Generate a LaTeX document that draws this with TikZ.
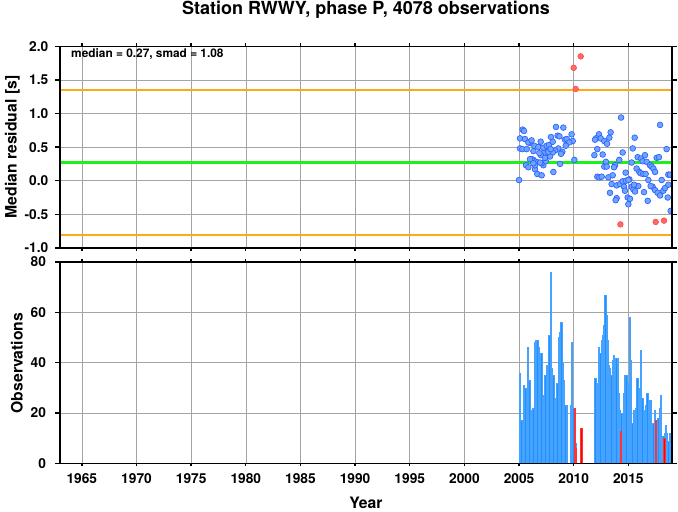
\documentclass[tikz,border=0pt]{standalone}
\usepackage{fontspec}
\setmainfont{TeX Gyre Heros}
\definecolor{gridgray}{RGB}{165,165,165}
\definecolor{dotfill}{RGB}{110,165,255}
\definecolor{dotline}{RGB}{45,95,255}
\definecolor{reddot}{RGB}{255,105,100}
\definecolor{reddotline}{RGB}{255,70,70}
\definecolor{barfill}{RGB}{30,144,255}
\definecolor{barline}{RGB}{70,162,255}
\definecolor{medgreen}{RGB}{30,240,30}
\definecolor{limorange}{RGB}{255,170,20}
\tikzset{
  gridline/.style={gridgray,line width=0.45pt},
  frameline/.style={line width=1pt},
  sideline/.style={line width=1.4pt},
  bluedot/.style={fill=dotfill,draw=dotline,line width=0.5pt},
  redpoint/.style={fill=reddot,draw=reddotline,line width=0.4pt},
  bluebar/.style={fill=barfill,draw=barline,line width=0.1pt},
  redbar/.style={fill=red,draw=red!80,line width=0.1pt},
  ticklabel/.style={font=\fontsize{10.3}{12}\selectfont\bfseries},
  axislabel/.style={font=\fontsize{11.8}{14}\selectfont\bfseries},
}
\begin{document}
\begin{tikzpicture}[x=0.75pt,y=0.75pt]
\useasboundingbox (0,0) rectangle (678,511);

\node[anchor=base,font=\fontsize{13.5}{16}\selectfont\bfseries] (title) at (366,496) {Station RWWY, phase P, 4078 observations};
\node[axislabel,anchor=base,rotate=90] (reslabel) at (16.5,364) {Median residual [s]};
\node[axislabel,anchor=base,rotate=90] (obslabel) at (22.5,148) {Observations};
\node[axislabel,anchor=base] (yearlabel) at (366,2.7) {Year};

\begin{scope}[shift={(348.3pt,247.725pt)},x=8.1975pt,y=50.4pt]
\foreach \x in {-35,-30,...,15}
\draw[gridline] (\x,-1) -- (\x,2);
\foreach \y in {-0.5,0,0.5,1,1.5}
\draw[gridline] (-37,\y) -- (19,\y);

\begin{scope}[limorange,line width=1.1pt]
\draw (-37,1.35) -- (19,1.35);
\draw (-37,-0.81) -- (19,-0.81);
\end{scope}
\draw[medgreen,line width=1.8pt] (-37,0.27) -- (19,0.27);

\begin{scope}
\clip (-37,-1) rectangle (19,2);
\foreach \x/\y in {5.00/0.01,5.33/0.76,5.45/0.74,5.09/0.63,5.54/0.62,6.00/0.56,5.85/0.57,6.15/0.60,
  5.09/0.48,5.30/0.47,5.70/0.47,6.31/0.44,6.40/0.52,6.76/0.50,6.98/0.58,7.22/0.49,7.53/0.52,7.74/0.53,
  7.92/0.65,8.08/0.58,8.38/0.80,8.53/0.67,8.69/0.66,9.05/0.79,9.20/0.61,9.36/0.62,9.81/0.69,9.91/0.59,
  9.60/0.57,9.27/0.52,8.96/0.43,8.84/0.40,8.59/0.48,8.29/0.45,8.08/0.42,7.83/0.36,7.47/0.41,7.22/0.41,
  7.01/0.38,6.86/0.41,6.61/0.28,6.31/0.31,6.15/0.32,6.00/0.32,5.64/0.23,5.85/0.20,6.46/0.17,6.67/0.10,
  7.07/0.08,7.22/0.23,7.07/0.26,7.44/0.29,8.14/0.13,8.75/0.25,10.06/0.31,6.46/0.23,6.92/0.27,7.68/0.43,
  7.89/0.47,7.37/0.34,6.31/0.26}
\draw[bluedot] (\x,\y) circle[radius=2.15pt];
\foreach \x/\y in {14.33/0.94,17.90/0.83,15.58/0.64,13.38/0.72,12.31/0.69,12.04/0.63,11.95/0.61,12.47/0.63,
  12.80/0.59,13.05/0.55,13.26/0.64,12.16/0.47,11.89/0.38,12.65/0.39,12.95/0.28,12.80/0.21,13.02/0.21,
  12.16/0.06,12.34/0.05,12.56/0.06,13.17/0.05,13.57/0.08,13.78/0.23,13.69/0.20,14.17/0.31,14.48/0.42,
  14.75/0.12,15.09/0.02,15.40/0.48,15.30/0.27,15.85/0.35,16.16/0.33,16.52/0.38,16.31/0.29,16.68/0.28,
  16.98/0.23,17.13/0.21,17.29/0.18,17.44/0.13,15.76/0.18,16.00/0.13,16.13/0.11,16.37/0.10,16.58/0.10,
  16.83/0.01,17.59/0.34,17.80/0.35,18.50/0.47,18.66/0.09,18.81/0.09,18.05/0.01,17.22/-0.09,17.04/-0.08,
  17.44/-0.14,17.68/-0.18,17.90/-0.22,18.20/-0.15,18.35/-0.11,18.66/-0.06,18.60/-0.25,18.87/-0.45,
  13.47/-0.05,13.93/-0.07,14.24/-0.05,14.48/-0.01,14.60/-0.09,14.78/0.00,15.00/0.01,15.30/-0.09,
  15.46/-0.13,15.61/-0.16,15.91/-0.08,16.43/-0.17,16.77/-0.30,13.32/-0.18,13.93/-0.26,13.84/-0.29,
  14.94/-0.25,15.15/-0.27,15.00/-0.35,14.69/-0.15,15.52/-0.06}
\draw[bluedot] (\x,\y) circle[radius=2.15pt];
\foreach \x/\y in {10.64/1.85,10.00/1.68,10.18/1.365,14.27/-0.65,17.50/-0.614,18.26/-0.594}
\draw[redpoint] (\x,\y) circle[radius=2.15pt];
\end{scope}

\draw[frameline] (-37,-1) rectangle (19,2);
\draw[sideline] (-37,-1) -- (-37,2);
\draw[sideline] (19,-1) -- (19,2);
\foreach \x in {-35,-30,...,15}{
\draw[frameline] (\x,2) -- ++(0,2.25pt);
\draw[frameline] (\x,-1) -- ++(0,-2.25pt);
}
\foreach \y/\t [count=\i] in {-1/-1.0,-0.5/-0.5,0/0.0,0.5/0.5,1/1.0,1.5/1.5,2/2.0}{
\draw[frameline] (-37,\y) -- ++(-3.5pt,0);
\draw[frameline] (19,\y) -- ++(3.5pt,0);
\node[ticklabel,anchor=east,xshift=-5.3pt] (res\i) at (-37,\y) {\t};
}
\end{scope}

\node[anchor=base west,font=\fontsize{8.9}{10}\selectfont\bfseries] (stats) at (66.5,453.7) {median = 0.27, smad = 1.08};

\begin{scope}[shift={(348.3pt,35.775pt)},x=8.1975pt,y=1.887pt]
\foreach \x in {-35,-30,...,15}
\draw[gridline] (\x,0) -- (\x,80);
\foreach \y in {20,40,60}
\draw[gridline] (-37,\y) -- (19,\y);

\begin{scope}
\clip (-37,0) rectangle (19,80);
\foreach \h [count=\i, evaluate=\i as \xs using 5+(\i-1)*0.122] in {36,17,10,31,30,28,46,33,0,21,
  22,48,49,49,46,42,44,18,27,35,39,35,51,76,38,35,24,26,32,50,52,56,40,33,23,23,0,0,23,48,22}
\draw[bluebar] (\xs,0) rectangle ++(0.122,\h);
\draw[bluebar] (10.12,0) rectangle ++(0.122,8);
\foreach \h [count=\i, evaluate=\i as \xs using 11.9+(\i-1)*0.113] in {34,32,28,46,44,49,51,55,67,59,
  49,39,38,35,41,43,25,42,42,28,21,20,0,28,35,35,32,19,58,41,16,21,14,22,34,30,29,45,26,9,
  21,23,28,22,25,25,9,16,21,17,17,18,22,27,8,11,12,15,12,9,12,5,19}
\draw[bluebar] (\xs,0) rectangle ++(0.113,\h);
\foreach \x/\h in {10.0/22,10.12/6,10.62/14,14.22/13,17.48/17,18.22/10}
\draw[redbar] (\x,0) rectangle ++(0.1,\h);
\end{scope}

\draw[frameline] (-37,0) rectangle (19,80);
\draw[sideline] (-37,0) -- (-37,80);
\draw[sideline] (19,0) -- (19,80);
\foreach \x [evaluate=\x as \yr using int(2000+\x)] in {-35,-30,...,15}{
\draw[frameline] (\x,80) -- ++(0,2.25pt);
\draw[frameline] (\x,0) -- ++(0,-2.25pt);
\node[ticklabel,anchor=base,yshift=-15pt] (yr\yr) at (\x,0) {\yr};
}
\foreach \y in {0,20,...,80}{
\draw[frameline] (-37,\y) -- ++(-3.5pt,0);
\draw[frameline] (19,\y) -- ++(3.5pt,0);
\node[ticklabel,anchor=east,xshift=-7pt] (obs\y) at (-37,\y) {\y};
}
\end{scope}
\end{tikzpicture}
\end{document}
